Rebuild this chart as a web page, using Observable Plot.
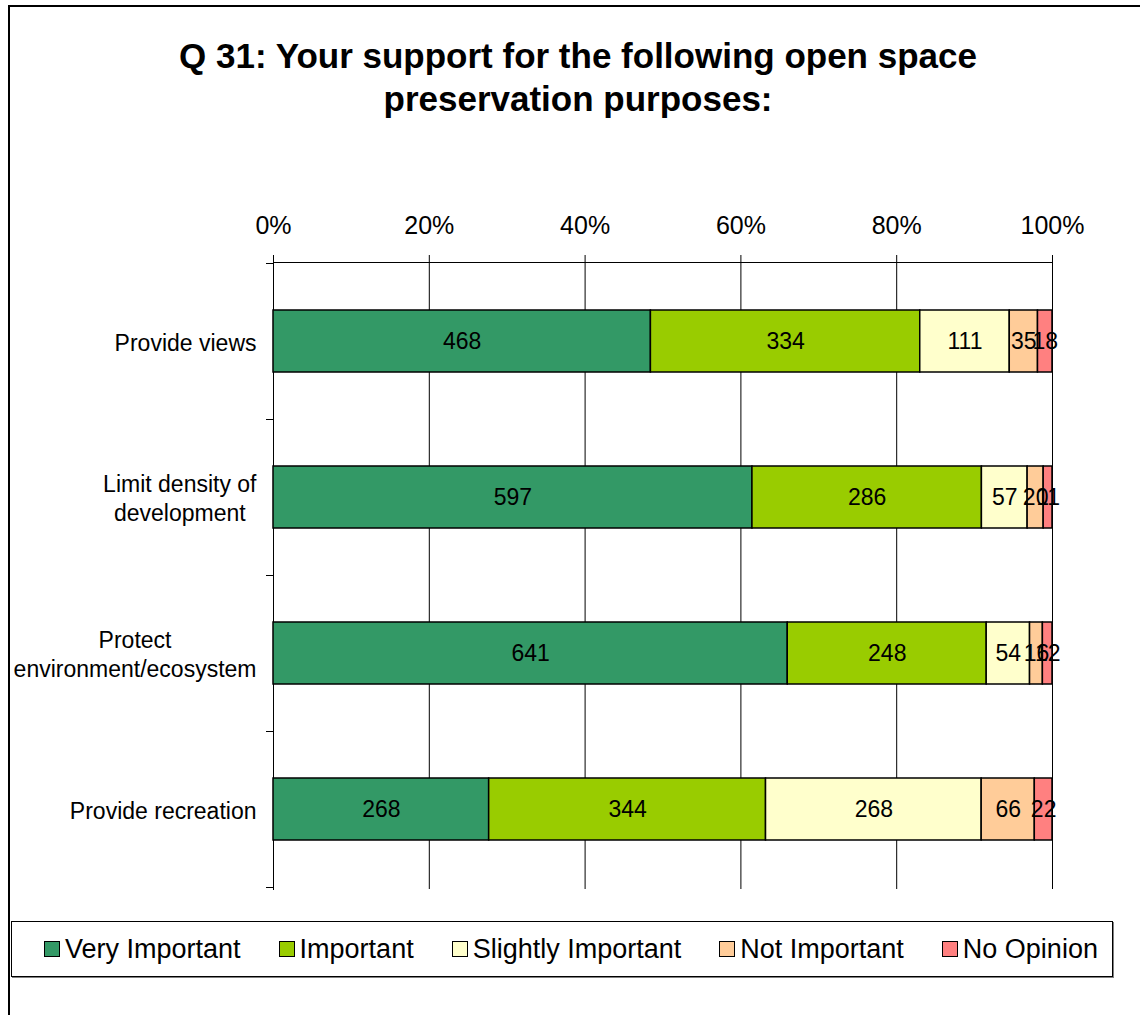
<!DOCTYPE html>
<html>
<head>
<meta charset="utf-8">
<script src="https://cdn.jsdelivr.net/npm/d3@7"></script>
<script src="https://cdn.jsdelivr.net/npm/@observablehq/plot@0.6"></script>
<style>
  html, body { margin: 0; padding: 0; background: #fff; }
  body { width: 1140px; height: 1015px; position: relative; overflow: hidden; font-family: "Liberation Sans", Arial, sans-serif; }
  #frame { position: absolute; left: 8px; top: 5px; width: 1200px; height: 1100px; border-left: 2px solid #000; border-top: 2px solid #000; box-sizing: border-box; }
  #chart { position: absolute; left: 0; top: 0; }
  #title { position: absolute; left: 128px; width: 900px; top: 34px; text-align: center; font-weight: bold; font-size: 35px; line-height: 43px; color: #000; }
  #legend { position: absolute; left: 11px; top: 921px; width: 1102px; height: 56px; box-sizing: border-box; border: 1px solid #000; box-shadow: 1px 1px 0 #808080; background: #fff; display: flex; align-items: center; padding-left: 32px; font-size: 27px; color: #000; }
  .item { display: flex; align-items: center; margin-right: 38px; white-space: nowrap; }
  .sw { width: 14px; height: 14px; border: 1.5px solid #000; margin-right: 5px; }
</style>
</head>
<body>
<div id="frame"></div>
<div id="chart"></div>
<div id="title">Q 31: Your support for the following open space<br>preservation purposes:</div>
<div id="legend"></div>
<script>
const categories = ["Provide views", "Limit density of development", "Protect environment/ecosystem", "Provide recreation"];
const categoryLabels = ["Provide views", "Limit density of\ndevelopment", "Protect\nenvironment/ecosystem", "Provide recreation"];
const series = ["Very Important", "Important", "Slightly Important", "Not Important", "No Opinion"];
const veryImportant = [468, 597, 641, 268];
const important = [334, 286, 248, 344];
const slightlyImportant = [111, 57, 54, 268];
const notImportant = [35, 20, 16, 66];
const noOpinion = [18, 11, 12, 22];
const colors = ["#339966", "#99CC00", "#FFFFCC", "#FFCC99", "#FF8080"];
const tickValues = [0, 0.2, 0.4, 0.6, 0.8, 1];

const seriesValues = [veryImportant, important, slightlyImportant, notImportant, noOpinion];
const data = [];
categories.forEach((c, i) => {
  series.forEach((s, j) => data.push({category: c, series: s, value: seriesValues[j][i]}));
});

// measure label blocks so that wrapped lines are centred in a right-aligned block
const ctx = document.createElement("canvas").getContext("2d");
ctx.font = "23px 'Liberation Sans', Arial, sans-serif";
const blockWidth = label => d3.max(label.split("\n"), l => ctx.measureText(l).width);

const boundaryTicks = (index, scales, values, dims) => {
  const y = scales.y;
  const y0 = y(categories[0]);
  const step = y(categories[1]) - y0;
  const bw = typeof y.bandwidth === "function" ? y.bandwidth() : step * 0.4;
  const g = d3.create("svg:g");
  const x = dims.marginLeft;
  for (let i = 0; i <= categories.length; i++) {
    const yy = Math.round(y0 + bw / 2 - step / 2 + i * step) + 0.5;
    g.append("line").attr("x1", x - 7).attr("x2", x).attr("y1", yy).attr("y2", yy)
      .attr("stroke", "#000").attr("stroke-width", 1);
  }
  return g.node();
};

const labelMarks = categories.map((c, i) => Plot.text([c], {
  y: d => d, text: () => categoryLabels[i], frameAnchor: "left", textAnchor: "middle",
  dx: -17 - blockWidth(categoryLabels[i]) / 2, fontSize: 23, lineHeight: 1.25, fill: "#000"
}));

const plot = Plot.plot({
  width: 1140,
  height: 1015,
  marginLeft: 273,
  marginRight: 88,
  marginTop: 262,
  marginBottom: 126,
  style: {fontFamily: "'Liberation Sans', Arial, sans-serif", background: "transparent", color: "#000"},
  x: {domain: [0, 1], axis: null, label: null},
  y: {domain: categories, axis: null, paddingInner: 0.6, paddingOuter: 0.3},
  color: {domain: series, range: colors},
  marks: [
    Plot.ruleX(tickValues, {x: d => d, stroke: "#000", strokeWidth: 1}),
    Plot.axisX({anchor: "top", ticks: tickValues, tickFormat: d => Math.round(d * 100) + "%", tickSize: 8, tickPadding: 21, fontSize: 25, stroke: "#000", label: null}),
    Plot.frame({anchor: "top", stroke: "#000"}),
    Plot.frame({anchor: "left", stroke: "#000"}),
    boundaryTicks,
    Plot.barX(data, Plot.stackX({offset: "normalize", x: "value", y: "category", fill: "series", stroke: "#000", strokeWidth: 1.5})),
    Plot.text(data, Plot.stackX({offset: "normalize", x: "value", y: "category", z: "series", text: "value", fontSize: 23, fill: "#000"})),
    ...labelMarks
  ]
});
document.getElementById("chart").appendChild(plot);

const legend = d3.select("#legend");
series.forEach((s, i) => {
  const it = legend.append("div").attr("class", "item");
  it.append("div").attr("class", "sw").style("background", colors[i]);
  it.append("span").text(s);
});
</script>
</body>
</html>
